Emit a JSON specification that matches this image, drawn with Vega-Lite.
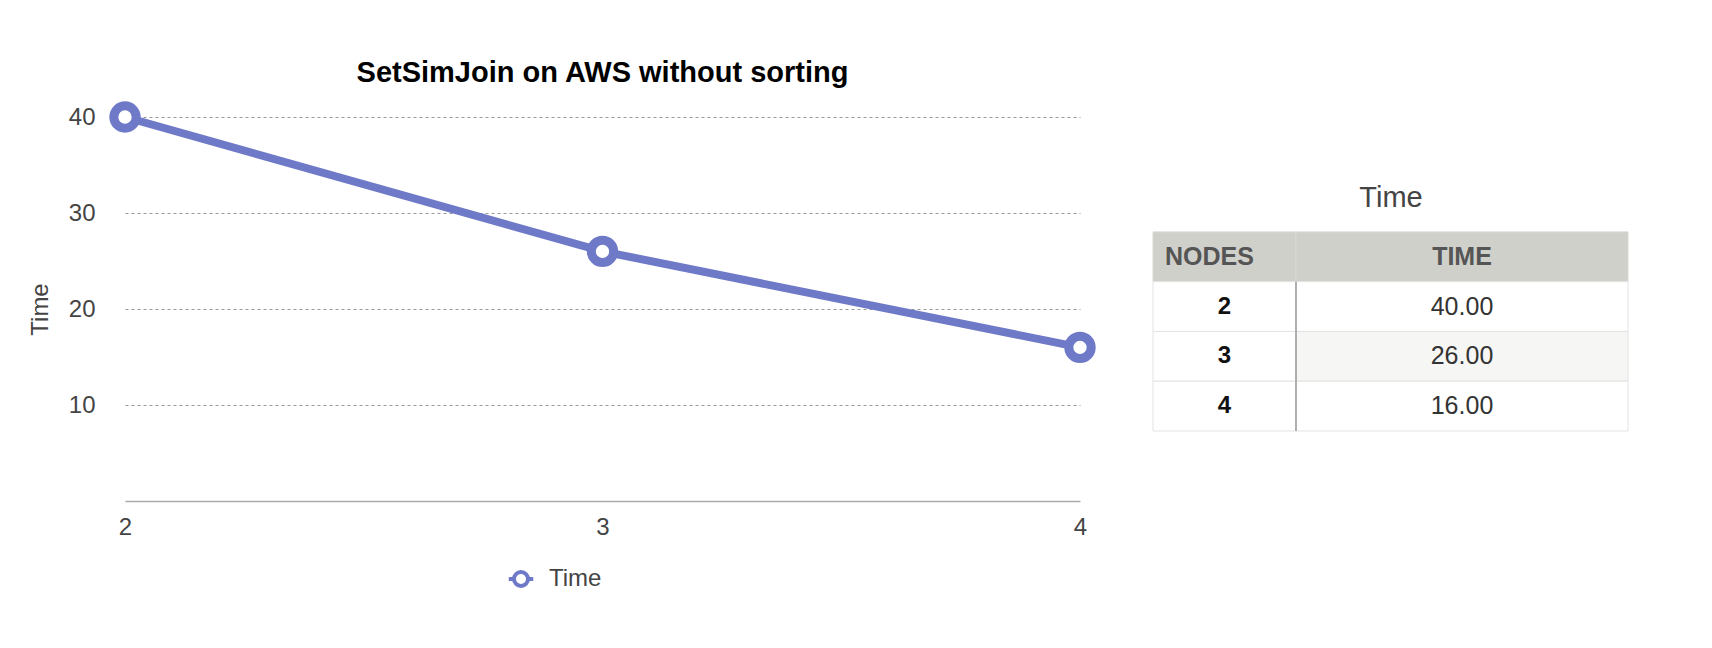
{
  "$schema": "https://vega.github.io/schema/vega-lite/v6.json",
  "background": "white",
  "padding": {"left": 28, "top": 58, "right": 0, "bottom": 0},
  "config": {
    "font": "Liberation Sans",
    "view": {"stroke": null},
    "axis": {"labelFont": "Liberation Sans", "titleFont": "Liberation Sans"}
  },
  "datasets": {
    "times": [
      {"Nodes": 2, "Time": 40},
      {"Nodes": 3, "Time": 26},
      {"Nodes": 4, "Time": 16}
    ]
  },
  "bounds": "flush",
  "spacing": 73,
  "hconcat": [
    {
      "width": 955,
      "height": 384,
      "data": {"name": "times"},
      "title": {"text": "SetSimJoin on AWS without sorting", "fontSize": 29, "fontWeight": "bold", "color": "#000000", "anchor": "middle", "frame": "group", "offset": 0},
      "encoding": {
        "x": {"field": "Nodes", "type": "quantitative",
          "scale": {"domain": [2, 4], "nice": false, "zero": false},
          "axis": {"title": null, "tickCount": 3, "format": "d", "labelFontSize": 24, "labelColor": "#444444", "labelPadding": 14, "labelFlush": false, "labelOverlap": false, "labelBound": false, "ticks": false, "tickSize": 0, "domain": true, "domainColor": "#aaaaaa", "domainWidth": 1.5, "grid": false}},
        "y": {"field": "Time", "type": "quantitative",
          "scale": {"domain": [0, 40], "nice": false},
          "axis": {"title": "Time", "titleFontSize": 24, "titleFontWeight": "normal", "titleColor": "#444444", "titlePadding": 16, "labelFontSize": 24, "labelColor": "#444444", "labelPadding": 30, "labelOverlap": false, "ticks": false, "tickSize": 0, "domain": false, "values": [10, 20, 30, 40], "grid": true, "gridDash": [3, 3], "gridColor": "#999999", "gridWidth": 1}}
      },
      "layer": [
        {"mark": {"type": "line", "color": "#6e7ac7", "strokeWidth": 8}},
        {"mark": {"type": "point", "shape": "circle", "filled": false, "fill": "white", "fillOpacity": 1, "opacity": 1, "size": 500, "strokeWidth": 9},
          "encoding": {
            "color": {"datum": "Time", "type": "nominal",
              "scale": {"range": ["#6e7ac7"]},
              "legend": {"orient": "none", "legendX": 384, "legendY": 450, "title": null, "padding": 0,
                "symbolType": "M-1.75,0L-1,0M1,0L1.75,0M1,0A1,1,0,1,1,-1,0A1,1,0,1,1,1,0Z",
                "symbolSize": 196, "symbolStrokeWidth": 4, "symbolFillColor": "white", "symbolStrokeColor": "#6e7ac7",
                "labelFontSize": 24, "labelColor": "#444444", "labelFont": "Liberation Sans", "labelOffset": 16,
                "encode": {"symbols": {"update": {"fill": {"value": "white"}, "stroke": {"value": "#6e7ac7"}, "strokeWidth": {"value": 4}, "opacity": {"value": 1}}}}}
            }
          }
        }
      ]
    },
    {
      "spacing": 0,
      "bounds": "flush",
      "hconcat": [
        {
          "width": 143,
          "height": 314,
          "layer": [
            {
              "data": {"values": [{"row": "header", "label": "NODES"}]},
              "mark": {"type": "rect", "fill": "#d0d0cb", "stroke": "#d8d8d4", "strokeWidth": 1},
              "encoding": {"y": {"field": "row", "type": "nominal", "scale": {"domain": ["title", "header", 2, 3, 4], "paddingInner": 0, "paddingOuter": 0.654, "align": 1}, "axis": null}}
            },
            {
              "data": {"values": [{"row": "header", "label": "NODES"}]},
              "mark": {"type": "text", "align": "left", "dx": 12, "fontSize": 25, "fontWeight": "bold", "color": "#555555"},
              "encoding": {
                "x": {"value": 0},
                "y": {"field": "row", "type": "nominal", "scale": {"domain": ["title", "header", 2, 3, 4], "paddingInner": 0, "paddingOuter": 0.654, "align": 1}, "axis": null},
                "text": {"field": "label"}
              }
            },
            {
              "data": {"values": [{"row": "title", "label": "Time"}]},
              "mark": {"type": "text", "align": "center", "baseline": "alphabetic", "dx": 95, "fontSize": 29, "fontWeight": "normal", "color": "#444444"},
              "encoding": {
                "x": {"value": "width"},
                "y": {"field": "row", "type": "nominal", "scale": {"domain": ["title", "header", 2, 3, 4], "paddingInner": 0, "paddingOuter": 0.654, "align": 1}, "axis": null},
                "text": {"field": "label"}
              }
            },
            {
              "data": {"name": "times"},
              "mark": {"type": "rect", "fill": "white", "stroke": "#e3e3e3", "strokeWidth": 1},
              "encoding": {"y": {"field": "Nodes", "type": "nominal", "scale": {"domain": ["title", "header", 2, 3, 4], "paddingInner": 0, "paddingOuter": 0.654, "align": 1}, "axis": null}}
            },
            {
              "data": {"name": "times"},
              "mark": {"type": "text", "fontSize": 24, "fontWeight": "bold", "color": "#111111"},
              "encoding": {
                "y": {"field": "Nodes", "type": "nominal", "scale": {"domain": ["title", "header", 2, 3, 4], "paddingInner": 0, "paddingOuter": 0.654, "align": 1}, "axis": null},
                "text": {"field": "Nodes"}
              }
            }
          ]
        },
        {
          "width": 332,
          "height": 314,
          "layer": [
            {
              "data": {"values": [{"row": "header", "label": "TIME"}]},
              "mark": {"type": "rect", "fill": "#d0d0cb", "stroke": "#d8d8d4", "strokeWidth": 1},
              "encoding": {"y": {"field": "row", "type": "nominal", "scale": {"domain": ["title", "header", 2, 3, 4], "paddingInner": 0, "paddingOuter": 0.654, "align": 1}, "axis": null}}
            },
            {
              "data": {"values": [{"row": "header", "label": "TIME"}]},
              "mark": {"type": "text", "fontSize": 25, "fontWeight": "bold", "color": "#555555"},
              "encoding": {
                "y": {"field": "row", "type": "nominal", "scale": {"domain": ["title", "header", 2, 3, 4], "paddingInner": 0, "paddingOuter": 0.654, "align": 1}, "axis": null},
                "text": {"field": "label"}
              }
            },
            {
              "data": {"name": "times"},
              "mark": {"type": "rect", "stroke": "#e3e3e3", "strokeWidth": 1},
              "encoding": {
                "y": {"field": "Nodes", "type": "nominal", "scale": {"domain": ["title", "header", 2, 3, 4], "paddingInner": 0, "paddingOuter": 0.654, "align": 1}, "axis": null},
                "fill": {"condition": {"test": "datum.Nodes === 3", "value": "#f6f6f4"}, "value": "white"}
              }
            },
            {
              "data": {"name": "times"},
              "mark": {"type": "rect", "stroke": "#9a9a9a", "strokeWidth": 1, "fill": null},
              "encoding": {
                "x": {"value": 0},
                "x2": {"value": 0},
                "y": {"field": "Nodes", "type": "nominal", "scale": {"domain": ["title", "header", 2, 3, 4], "paddingInner": 0, "paddingOuter": 0.654, "align": 1}, "axis": null}
              }
            },
            {
              "data": {"name": "times"},
              "mark": {"type": "text", "fontSize": 25, "fontWeight": "normal", "color": "#333333"},
              "encoding": {
                "y": {"field": "Nodes", "type": "nominal", "scale": {"domain": ["title", "header", 2, 3, 4], "paddingInner": 0, "paddingOuter": 0.654, "align": 1}, "axis": null},
                "text": {"field": "Time", "type": "quantitative", "format": ".2f"}
              }
            }
          ]
        }
      ]
    }
  ]
}
